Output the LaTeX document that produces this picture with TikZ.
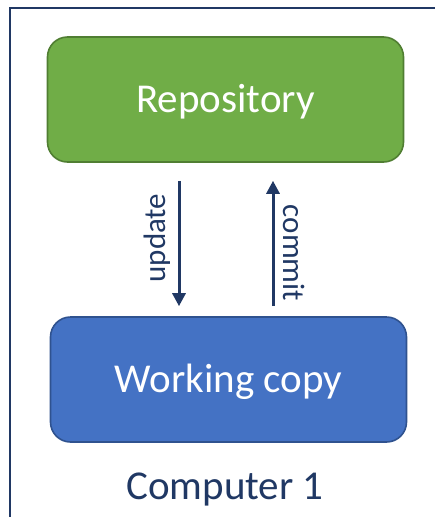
\documentclass[tikz,border=0pt]{standalone}
\usepackage{fontspec}
\setmainfont{Carlito}
\usetikzlibrary{arrows.meta}
\definecolor{navy}{HTML}{203864}
\definecolor{repofill}{HTML}{70AD47}
\definecolor{repoedge}{HTML}{507E32}
\definecolor{wcfill}{HTML}{4472C4}
\definecolor{wcedge}{HTML}{2F528F}
\tikzset{
  box/.style={rounded corners=20pt, line width=1.6pt, inner sep=0pt,
    minimum width=356pt, minimum height=125pt, text=white,
    font=\fontsize{41}{49}\selectfont, text height=26pt, text depth=0pt},
  flow/.style={draw=navy, line width=3pt, -{Triangle[width=13pt,length=13pt]}},
  lbl/.style={text=navy, inner sep=0pt, font=\fontsize{31}{37}\selectfont},
}
\begin{document}
\begin{tikzpicture}[x=1pt, y=-1pt]
  \useasboundingbox (0,0) rectangle (435,517);
  % computer frame (runs off the right and bottom edges)
  \draw[navy, line width=2.6pt] (435,8) -- (10,8) -- (10,517);

  \node[box, fill=repofill, draw=repoedge] (repo) at (225.5,99.5) {Repository};
  \node[box, fill=wcfill, draw=wcedge] (wc) at (228.5,379.5) {Working copy};

  \draw[flow, shorten <=18pt, shorten >=10pt]
    ([xshift=-46.5pt]repo.south) -- ([xshift=-49.5pt]wc.north);
  \draw[flow, shorten <=10pt, shorten >=18pt]
    ([xshift=44.5pt]wc.north) -- ([xshift=47.5pt]repo.south);

  \node[lbl, rotate=90] (updlbl) at (157.5,238) {update};
  \node[lbl, rotate=-90] (comlbl) at (294,253) {commit};

  \node[text=navy, anchor=base, font=\fontsize{41}{49}\selectfont] (pc) at (225,499) {Computer 1};
\end{tikzpicture}
\end{document}
